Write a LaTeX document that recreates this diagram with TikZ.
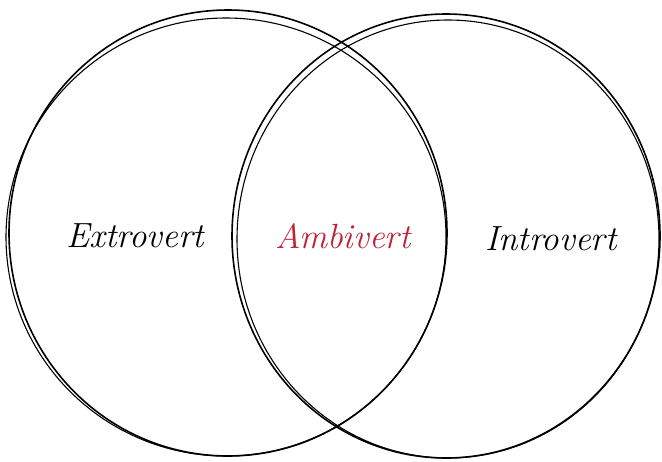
\documentclass[tikz,border=0pt]{standalone}
\usepackage{tikz}
\usetikzlibrary{positioning}
\usepackage{xcolor}
\definecolor{ambired}{RGB}{190,35,55}

\begin{document}
\begin{tikzpicture}[x=1pt, y=-1pt,
  sketch/.style={draw=black, line width=1.6pt},
  sketchb/.style={draw=black, line width=1.1pt},
  lbl/.style={font=\fontsize{35}{40}\selectfont\itshape, inner sep=0pt}]
\useasboundingbox (0,0) rectangle (662,461);
% left circle, drawn twice for the sketchy look
\draw[sketch]  (228,233) ellipse [x radius=219, y radius=223];
\draw[sketchb] (226,237) ellipse [x radius=220, y radius=219];
% right circle
\draw[sketch]  (446,236) ellipse [x radius=214, y radius=222];
\draw[sketchb] (448,239) ellipse [x radius=211, y radius=219];
\node[lbl] (extro) at (135,236) {Extrovert};
\node[lbl, text=ambired] (ambi) at (343,236) {Ambivert};
\node[lbl] (intro) at (551,239) {Introvert};
\end{tikzpicture}
\end{document}
